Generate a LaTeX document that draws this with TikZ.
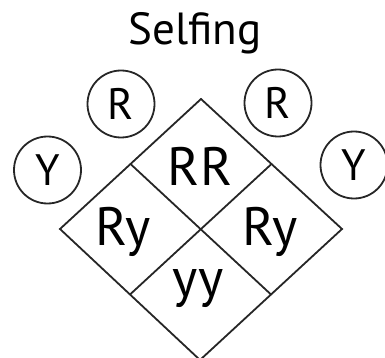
\documentclass[tikz,border=0pt]{standalone}
\usepackage{fontspec}
\setmainfont{PT Sans}
\usetikzlibrary{calc}
\begin{document}
\begin{tikzpicture}[x=1pt,y=-1pt,
  ln/.style={line width=1.8pt, black!85},
  allele/.style={circle, draw, line width=1.8pt, draw=black!85, minimum size=67pt, inner sep=0pt, font=\fontsize{44}{44}\selectfont},
  geno/.style={inner sep=0pt, font=\fontsize{54}{54}\selectfont},
  ttl/.style={inner sep=0pt, font=\fontsize{45}{45}\selectfont}]
\useasboundingbox (0,0) rectangle (385,358);
\node[ttl] (title) at (195,33) {Selfing};
\coordinate (T) at (201,99);
\coordinate (L) at (60,229);
\coordinate (R) at (342,229);
\coordinate (B) at (200,360);
\coordinate (ULm) at ($(T)!0.5!(L)$);
\coordinate (URm) at ($(T)!0.5!(R)$);
\coordinate (LLm) at ($(B)!0.5!(L)$);
\coordinate (LRm) at ($(B)!0.5!(R)$);
\draw[ln, line join=miter] (T) -- (R) -- (B) -- (L) -- cycle;
\draw[ln] (ULm) -- (LRm);
\draw[ln] (URm) -- (LLm);
\node[allele] (r1) at (121,104) {R};
\node[allele] (y1) at (47.5,170) {Y};
\node[allele] (r2) at (278,103) {R};
\node[allele] (y2) at (354,165) {Y};
\node[geno] (rr) at (200,166) {RR};
\node[geno] (ryl) at (123,232) {Ry};
\node[geno] (ryr) at (270,232) {Ry};
\node[geno] (yy) at (198,289) {yy};
\end{tikzpicture}
\end{document}
